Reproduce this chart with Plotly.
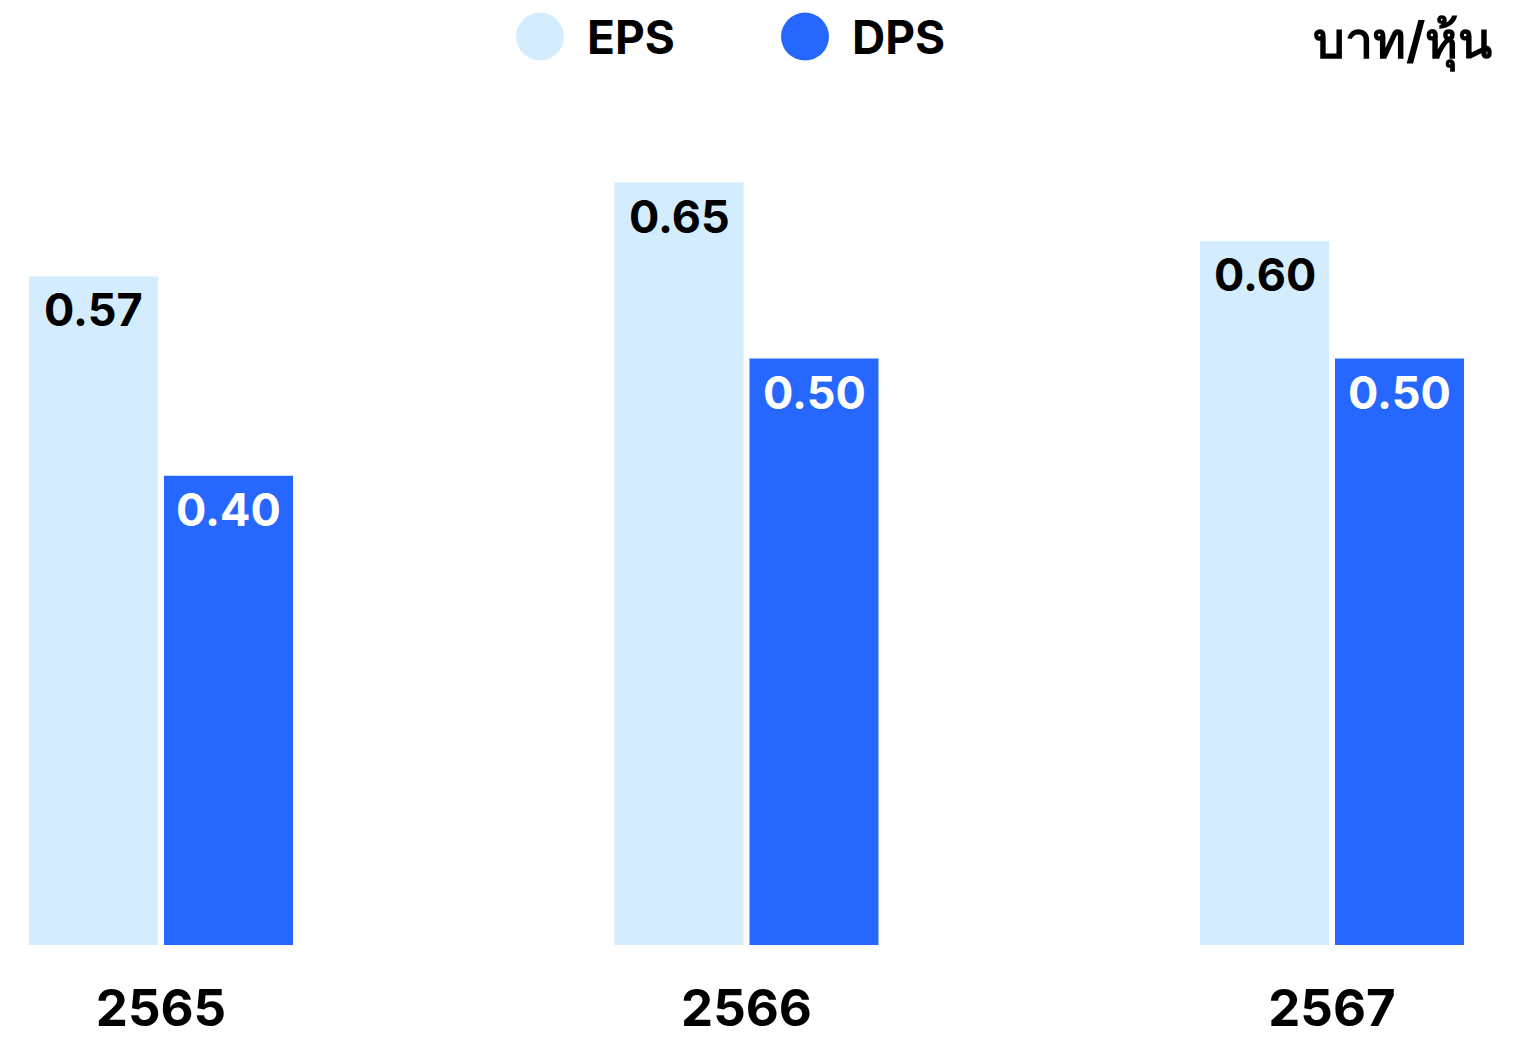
import plotly.graph_objects as go

years = ["2565", "2566", "2567"]
eps = [0.57, 0.65, 0.60]
dps = [0.40, 0.50, 0.50]
eps_labels = ["0.57", "0.65", "0.60"]
dps_labels = ["0.40", "0.50", "0.50"]
series_names = ["EPS", "DPS"]
unit_label = "บาท/หุ้น"

EPS_COLOR = "#D3ECFE"
DPS_COLOR = "#2667FF"
FONT = "Inter, Lato, 'Noto Sans', sans-serif"

W, H = 1537, 1038
ML, MR, MT, MB = 0, 0, 100, 85
plot_w = W - ML - MR
plot_h = H - MT - MB

px_per_cat = 585.5
x0 = -161 / px_per_cat
x1 = x0 + plot_w / px_per_cat
bar_w = 129 / px_per_cat
px_per_unit = 1184
ymax = plot_h / px_per_unit

fig = go.Figure()
fig.add_trace(go.Bar(x=years, y=eps, name=series_names[0], marker_color=EPS_COLOR,
                     width=bar_w, offset=-132 / px_per_cat, showlegend=False,
                     marker_line_width=0, hoverinfo="skip"))
fig.add_trace(go.Bar(x=years, y=dps, name=series_names[1], marker_color=DPS_COLOR,
                     width=bar_w, offset=3 / px_per_cat, showlegend=False,
                     marker_line_width=0, hoverinfo="skip"))

annotations = []
for i, (v, t) in enumerate(zip(eps, eps_labels)):
    annotations.append(dict(x=i, y=v, text=f"<b>{t}</b>", showarrow=False,
                            xref="x", yref="y", xshift=-67.5, yshift=-4,
                            yanchor="top", xanchor="center",
                            font=dict(family=FONT, size=45, color="#000000")))
for i, (v, t) in enumerate(zip(dps, dps_labels)):
    annotations.append(dict(x=i, y=v, text=f"<b>{t}</b>", showarrow=False,
                            xref="x", yref="y", xshift=67.5, yshift=-4,
                            yanchor="top", xanchor="center",
                            font=dict(family=FONT, size=45, color="#FFFFFF")))

def px_x(p):
    return (p - ML) / plot_w

def px_y(p):
    return (H - MB - p) / plot_h

shapes = []
legend_items = [(series_names[0], EPS_COLOR, 540, 587), (series_names[1], DPS_COLOR, 805, 852)]
for name, col, cx, tx in legend_items:
    shapes.append(dict(type="circle", xref="paper", yref="paper",
                       xsizemode="pixel", ysizemode="pixel",
                       xanchor=px_x(cx), yanchor=px_y(36),
                       x0=-24, x1=24, y0=-24, y1=24,
                       fillcolor=col, line_width=0))
    annotations.append(dict(x=px_x(tx - 2), y=px_y(36), xref="paper", yref="paper",
                            text=f"<b>{name}</b>", showarrow=False,
                            xanchor="left", yanchor="middle",
                            font=dict(family=FONT, size=46, color="#000000")))

annotations.append(dict(x=px_x(1494), y=px_y(40), xref="paper", yref="paper",
                        text=f"<b>{unit_label}</b>", showarrow=False,
                        xanchor="right", yanchor="middle",
                        font=dict(family=FONT, size=50, color="#000000")))

fig.update_layout(
    width=W, height=H,
    margin=dict(l=ML, r=MR, t=MT, b=MB, pad=0),
    paper_bgcolor="#FFFFFF", plot_bgcolor="#FFFFFF",
    barmode="overlay",
    showlegend=False,
    annotations=annotations,
    shapes=shapes,
    xaxis=dict(type="category", range=[x0, x1], showgrid=False, zeroline=False,
               showline=False, ticks="", ticklabelstandoff=29,
               tickfont=dict(family=FONT, size=51, color="#000000"),
               tickvals=years, ticktext=[f"<b>{y}</b>" for y in years]),
    yaxis=dict(range=[0, ymax], showgrid=False, zeroline=False, showline=False,
               showticklabels=False, ticks=""),
)

# remove the browser's default 8px page margin so the figure fills the window exactly
fig.write_html("out.html", config={"displayModeBar": False},
               post_script="document.body.style.margin='0';")
